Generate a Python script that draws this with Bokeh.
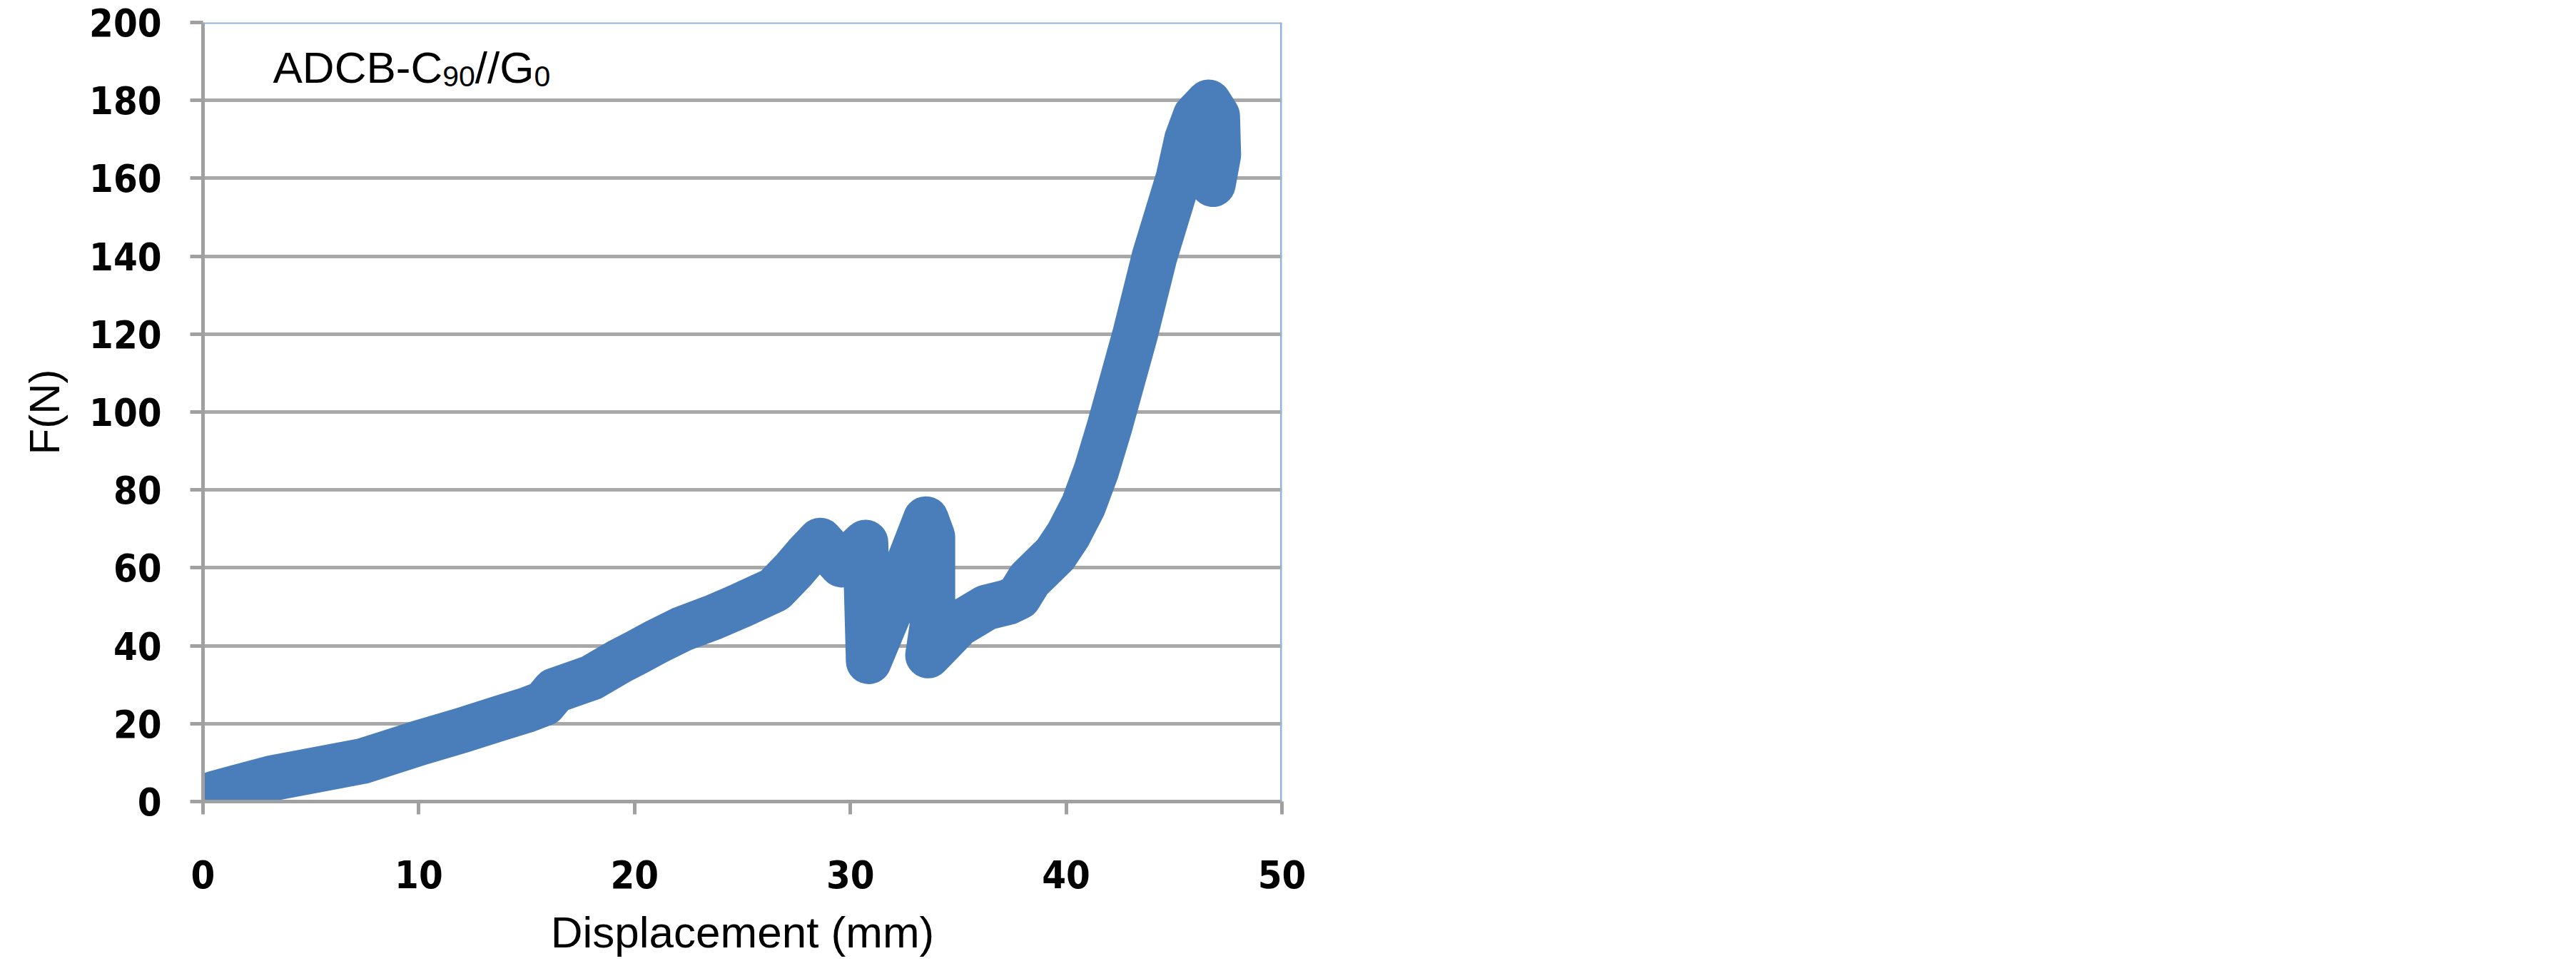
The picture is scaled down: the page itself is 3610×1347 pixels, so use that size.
from bokeh.plotting import figure
from bokeh.models import Span, Label, FixedTicker
from bokeh.embed import file_html
from bokeh.resources import INLINE

# ---- data ----
displacement_mm = [0.0, 0.5, 1.5, 3.2, 5.3, 7.4, 10.0, 12.0, 13.7, 15.0, 15.8, 16.3,
                   18.0, 19.3, 20.1, 21.0, 22.2, 23.6, 24.9, 26.5, 27.4, 28.0, 28.6,
                   29.6, 30.7, 30.85, 32.2, 33.5, 33.8, 33.8, 33.6, 34.3, 35.0, 36.3,
                   37.3, 37.8, 38.3, 39.5, 40.1, 40.8, 41.4, 42.0, 42.6, 43.2, 44.1,
                   45.2, 45.6, 46.0, 46.6, 47.0, 47.05, 46.8]
force_N = [0.5, 2.0, 3.5, 6.0, 8.2, 10.4, 15.0, 18.3, 21.3, 23.5, 25.2, 28.5,
           31.8, 36.0, 38.3, 41.0, 44.3, 47.2, 50.3, 54.4, 59.6, 63.5, 67.0,
           60.8, 66.5, 36.0, 54.0, 72.5, 68.0, 45.0, 37.5, 41.5, 45.5, 49.8,
           51.2, 52.5, 57.0, 63.5, 68.5, 76.0, 85.0, 96.0, 108.0, 120.0, 140.0,
           160.0, 170.0, 176.0, 179.5, 176.0, 166.0, 158.5]
x_ticks = [0, 10, 20, 30, 40, 50]
y_ticks = [0, 20, 40, 60, 80, 100, 120, 140, 160, 180, 200]

X_MAX, Y_MAX = 50, 200
FW, FH = 1512, 1092   # frame size in px

p = figure(frame_width=FW, frame_height=FH, x_range=(0, X_MAX), y_range=(0, Y_MAX),
           output_backend="svg", toolbar_location=None,
           min_border_left=284, min_border_top=31, min_border_right=40, min_border_bottom=224)
p.outline_line_color = None
p.background_fill_color = "white"
p.border_fill_color = "white"

# grid
p.xgrid.grid_line_color = None
p.ygrid.grid_line_color = "#a8a8a8"
p.ygrid.grid_line_width = 5

# axes
tick_font = "DejaVu Sans Condensed"
for ax in (p.xaxis[0], p.yaxis[0]):
    ax.axis_line_color = "#a0a0a0"
    ax.axis_line_width = 5
    ax.major_tick_line_color = "#a0a0a0"
    ax.major_tick_line_width = 5
    ax.major_tick_out = 18
    ax.major_tick_in = 0
    ax.minor_tick_line_color = None
    ax.major_label_text_font = tick_font
    ax.major_label_text_font_style = "bold"
    ax.major_label_text_font_size = "54px"
    ax.major_label_text_color = "black"
    ax.axis_label_text_font = "Liberation Sans"
    ax.axis_label_text_font_style = "normal"
    ax.axis_label_text_color = "black"

p.xaxis.ticker = FixedTicker(ticks=x_ticks)
p.yaxis.ticker = FixedTicker(ticks=y_ticks)
p.xaxis.major_label_standoff = 64
p.yaxis.major_label_standoff = 40
p.xaxis.axis_label = "Displacement (mm)"
p.yaxis.axis_label = "F(N)"
p.xaxis.axis_label_text_font_size = "62px"
p.yaxis.axis_label_text_font_size = "60px"
p.xaxis.axis_label_standoff = 24
p.yaxis.axis_label_standoff = 26

# top / right chart borders (light blue)
p.add_layout(Span(location=Y_MAX, dimension="width", line_color="#95b3d7", line_width=4))
p.add_layout(Span(location=X_MAX, dimension="height", line_color="#95b3d7", line_width=5))

# data series
p.line(displacement_mm, force_N, line_color="#4a7ebb", line_width=64,
       line_join="round", line_cap="round")

# title text inside the plot: ADCB-C90//G0 with subscripts
px_x = X_MAX / FW
px_y = Y_MAX / FH
x0 = 98 * px_x
base = Y_MAX - 63 * px_y
sub_base = base - 12 * px_y
big, small = 62, 41
parts = [
    ("ADCB-C", big, 0.0, base),
    ("90", small, 3.833 * big, sub_base),
    ("//G", big, 3.833 * big + 2 * 0.556 * small, base),
    ("0", small, 3.833 * big + 2 * 0.556 * small + (2 * 0.278 + 0.778) * big, sub_base),
]
for txt, size, dx, yy in parts:
    p.add_layout(Label(x=x0 + dx * px_x, y=yy, text=txt, text_font="Liberation Sans",
                       text_font_size=f"{size}px", text_color="black",
                       text_baseline="alphabetic", text_align="left"))

open("out.html", "w").write(file_html(p, INLINE))
